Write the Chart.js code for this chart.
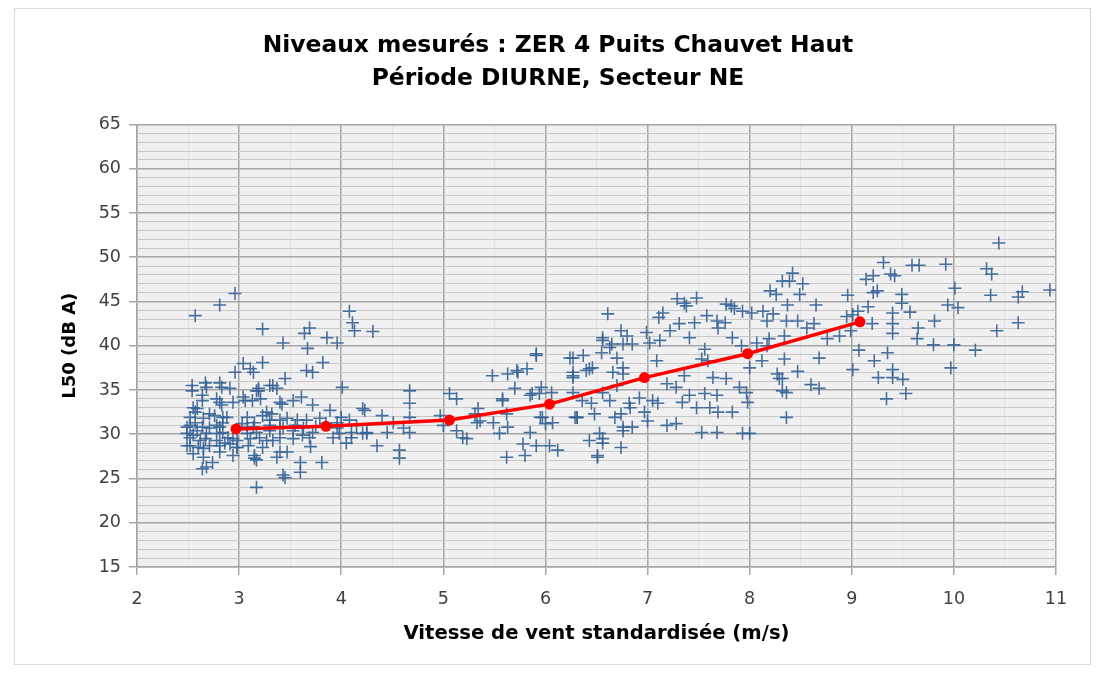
<!DOCTYPE html>
<html>
<head>
<meta charset="utf-8">
<script src="https://cdn.jsdelivr.net/npm/chart.js@4.4.0/dist/chart.umd.min.js"></script>
<style>
  html, body { margin: 0; padding: 0; background: #ffffff; }
  #wrap { position: relative; width: 1102px; height: 673px; }
  #wrap canvas { position: absolute; left: 0; top: 0; }
  #frame { position: absolute; left: 14px; top: 8px; width: 1077px; height: 657px;
           border: 1px solid #d9d9d9; box-sizing: border-box; pointer-events: none; }
</style>
</head>
<body>
<div id="wrap">
  <canvas id="chart" width="1102" height="673"></canvas>
  <div id="frame"></div>
</div>
<script>
// Titles
const titleLines = ['Niveaux mesurés : ZER 4 Puits Chauvet Haut', 'Période DIURNE, Secteur NE'];
const xAxisTitle = 'Vitesse de vent standardisée (m/s)';
const yAxisTitle = 'L50 (dB A)';

// Axis ranges and labelled ticks
const xTickLabels = [2, 3, 4, 5, 6, 7, 8, 9, 10, 11];
const yTickLabels = [15, 20, 25, 30, 35, 40, 45, 50, 55, 60, 65];

// Individual 10-min measurements: [wind speed (m/s), L50 (dB A)]
const mesures = [
  [10.44,51.6],[9.31,49.4],[9.59,49.1],[9.66,49.1],[9.92,49.2],[9.38,48.1],[9.42,47.9],[9.14,47.5],
  [9.21,47.9],[10.32,48.7],[10.37,48.1],[8.42,48.2],[8.39,47.3],[8.52,47.0],[10.01,46.5],[9.21,46.0],
  [9.25,46.2],[8.96,45.7],[9.49,45.8],[10.36,45.7],[10.67,46.1],[10.63,45.5],[10.94,46.3],[8.49,45.8],
  [8.37,44.6],[8.65,44.6],[9.49,44.8],[9.94,44.6],[10.04,44.3],[9.16,44.4],[9.06,43.9],[9.40,43.7],
  [9.57,43.8],[8.95,43.3],[9.01,43.5],[8.47,42.8],[8.63,42.5],[8.56,42.0],[9.20,42.5],[9.40,42.5],
  [9.81,42.8],[9.65,42.0],[10.63,42.6],[9.40,41.4],[9.64,40.8],[10.42,41.7],[8.34,41.1],[8.76,40.8],
  [8.88,41.1],[8.99,41.7],[9.80,40.1],[10.00,40.1],[10.21,39.5],[9.07,39.5],[9.35,39.2],[8.34,38.5],
  [8.68,38.6],[9.22,38.3],[9.01,37.3],[9.40,37.3],[8.47,37.1],[9.97,37.5],[9.26,36.4],[9.40,36.4],
  [9.50,36.2],[8.60,35.6],[8.68,35.2],[8.36,34.7],[9.34,34.0],[9.53,34.6],[8.32,36.3],[8.36,31.9],
  [8.17,42.8],[8.36,42.8],[7.82,44.5],

  [6.61,43.6],[7.29,45.3],[7.36,44.8],[7.48,45.4],[7.38,44.5],[7.15,43.7],[7.11,43.2],[7.31,42.5],
  [7.46,42.6],[7.58,43.4],[7.68,42.8],[7.77,44.7],[7.85,44.2],[7.93,43.9],[8.02,43.7],[8.13,43.9],
  [8.23,43.6],[8.20,46.2],[8.26,45.8],[8.32,47.3],[7.69,42.0],[7.76,42.6],[7.83,40.9],[7.92,40.0],
  [7.22,41.7],[6.99,41.5],[6.80,41.1],[6.74,41.7],[6.56,40.6],[6.63,39.8],[6.76,40.2],[6.85,40.2],
  [7.02,40.3],[7.12,40.6],[7.41,40.9],[7.56,39.6],[6.55,39.2],[6.37,38.9],[6.27,38.6],[7.09,38.3],
  [7.53,38.5],[7.59,38.3],[8.07,40.3],[8.17,40.0],[8.12,38.3],[8.00,37.5],[8.27,36.8],[8.29,36.3],
  [6.43,37.4],[6.66,37.0],[6.76,37.5],[6.27,36.6],[7.36,36.6],[7.64,36.4],[7.77,36.3],[7.19,35.7],
  [7.28,35.3],[7.41,34.4],[7.56,34.6],[7.68,34.4],[7.90,35.3],[7.97,34.7],[6.36,33.8],[6.45,33.5],
  [6.63,33.8],[6.82,33.5],[6.92,34.1],[7.05,33.8],[7.10,33.5],[7.34,33.6],[7.48,33.0],[7.61,33.0],
  [7.69,32.5],[7.83,32.5],[7.98,33.6],[6.31,31.9],[6.48,32.3],[6.74,32.3],[6.85,30.8],[6.76,30.4],
  [7.00,31.5],[7.19,31.0],[7.28,31.2],[7.53,30.2],[7.68,30.2],[7.93,30.1],[8.00,30.1],[6.43,29.3],
  [6.56,29.5],[6.74,28.5],[6.51,27.6],[6.97,32.5],[6.56,34.7],[6.70,35.5],[8.19,40.8],[8.32,34.9],
  [6.27,34.7],

  [4.31,41.6],[5.91,38.9],[6.24,38.6],[5.48,36.6],[5.63,36.8],[5.73,37.0],[5.82,37.4],[5.70,35.2],
  [5.87,34.6],[5.96,35.3],[4.67,34.9],[4.67,33.5],[4.67,31.9],[4.67,30.2],[5.06,34.6],[5.13,34.0],
  [4.23,32.7],[4.40,32.1],[4.45,30.2],[4.61,30.7],[4.25,30.1],[4.35,28.7],[4.57,28.2],[4.57,27.3],
  [5.00,31.0],[5.13,30.4],[5.23,29.5],[5.31,32.3],[5.36,31.5],[5.49,31.3],[5.58,34.0],[5.62,32.3],
  [5.55,30.1],[5.62,27.4],[5.80,27.6],[5.78,28.9],[5.85,30.2],[5.91,28.7],[6.04,28.7],[6.12,28.2],
  [5.95,31.9],[6.00,31.2],[6.07,31.3],[6.06,34.7],[6.27,37.0],[6.29,31.9],[5.34,32.9],[4.51,31.3],

  [2.96,45.9],[2.81,44.6],[2.57,43.4],[3.23,41.9],[3.69,42.0],[3.64,41.4],[3.86,40.9],[3.96,40.3],
  [3.43,40.3],[3.67,39.7],[4.08,43.9],[4.11,42.6],[4.13,41.7],[3.82,38.1],[3.72,37.0],[3.23,38.1],
  [3.45,36.3],[4.01,35.3],[3.04,38.0],[3.11,37.4],[2.96,37.0],[3.14,37.0],[2.67,35.8],[2.54,35.5],
  [2.81,35.8],[2.91,35.2],[3.19,35.2],[3.33,35.5],[3.37,35.2],[3.61,34.2],[3.40,33.6],[3.72,33.3],
  [4.21,32.9],[3.89,32.7],[3.04,34.2],[2.78,34.0],[2.64,34.4],[2.83,33.3],[2.59,32.9],[2.52,31.9],
  [2.65,31.8],[2.76,32.1],[2.88,31.9],[3.08,31.9],[3.27,32.5],[3.30,31.6],[3.47,31.8],[3.57,31.6],
  [3.66,31.6],[3.79,31.8],[3.96,31.3],[4.08,31.6],[2.49,30.8],[2.59,30.4],[2.71,30.7],[2.81,30.8],
  [3.08,30.8],[3.17,30.2],[3.30,30.4],[3.40,30.7],[3.53,30.4],[3.63,30.7],[3.72,30.2],[3.96,30.7],
  [4.10,30.2],[4.25,30.2],[2.52,29.6],[2.62,29.3],[2.78,29.3],[2.89,29.6],[2.98,29.3],[3.11,29.5],
  [3.27,29.3],[3.40,29.6],[3.53,29.5],[3.69,29.6],[3.92,29.6],[2.52,28.7],[2.65,28.4],[2.81,28.7],
  [2.98,28.5],[3.40,28.0],[2.65,27.4],[2.74,26.8],[3.15,27.6],[3.17,27.1],[3.60,26.8],[3.81,26.8],
  [2.64,26.1],[2.68,26.3],[3.60,25.7],[3.43,25.4],[3.17,24.0],[2.94,27.6],[3.40,31.6],[4.21,30.1],
  [4.10,29.6],[2.57,31.3],[2.84,31.3],[3.03,31.2],[3.15,31.3],[3.19,34.9],[2.71,32.3],[2.49,30.1],
  [2.68,30.1],[2.84,30.2],[3.09,28.7],[3.23,28.5],[2.91,28.9],[2.55,33.0],[2.94,33.6],[3.66,37.2],
  [3.30,35.5],[3.13,33.8],[2.54,34.9],[2.68,35.3],

  [2.83,35.3],[3.17,34.9],[2.64,33.8],[2.81,33.6],[3.06,33.8],[3.21,34.0],[3.42,33.4],[3.53,33.8],
  [2.57,32.5],[2.84,31.9],[3.23,32.1],[3.32,32.3],[2.52,31.0],[2.64,30.8],[2.78,31.0],[3.14,30.8],
  [3.30,31.0],[3.43,30.7],[2.55,29.9],[2.67,29.5],[2.81,30.1],[2.94,29.5],[3.08,30.1],[3.20,29.6],
  [3.33,29.3],[2.49,28.7],[2.60,28.5],[2.71,28.7],[2.86,29.0],[2.98,28.5],[2.55,27.8],[2.81,28.0],
  [3.15,27.3],[3.37,27.4],[3.47,28.0],[3.45,25.1],
  [3.55,31.0],[3.75,30.9],[3.85,31.2],[4.00,31.9],[4.15,31.0],[3.62,29.9],[3.98,30.1],[4.05,29.0],
  [3.70,28.6],

  [4.97,32.1],[5.19,29.6],[5.33,31.3],[5.58,33.8],[5.63,30.8],[5.72,37.2],[5.85,34.4],[5.94,34.6],
  [5.97,31.9],[5.91,39.1],[6.27,36.4],[6.40,37.2],[6.46,37.5],[6.31,31.9],[6.56,40.9],[6.65,40.2],
  [6.70,38.6],[6.76,36.8],[6.53,30.1],[6.56,29.0],[6.68,31.9],[6.76,30.8],[6.83,33.0],[6.51,27.4]
];

// Mean level per wind-speed class
const classeVitesse = [2.97, 3.85, 5.06, 6.04, 6.97, 7.98, 9.08];
const classeL50 = [30.6, 30.9, 31.6, 33.4, 36.4, 39.1, 42.7];

const isMajorX = v => Math.abs(v - Math.round(v)) < 1e-6;
const isMajorY = v => Math.abs(v / 5 - Math.round(v / 5)) < 1e-6;

// Chart frame: outer padding and fixed axis band sizes
const PAD = { top: 9, right: 46, bottom: 27, left: 60 };
const Y_AXIS_BAND = 77;
const X_AXIS_BAND = 79;

const plotBackground = {
  id: 'plotBackground',
  beforeDraw(chart) {
    const { ctx, chartArea: a } = chart;
    ctx.save();
    ctx.fillStyle = '#f0f0f0';
    ctx.fillRect(a.left, a.top, a.right - a.left, a.bottom - a.top);
    ctx.restore();
  }
};

new Chart(document.getElementById('chart'), {
  type: 'scatter',
  data: {
    datasets: [
      {
        type: 'line',
        label: 'Moyenne par classe',
        data: classeVitesse.map((x, i) => ({ x, y: classeL50[i] })),
        borderColor: '#ff0000',
        backgroundColor: '#ff0000',
        borderWidth: 3.5,
        pointRadius: 5.5,
        pointBorderWidth: 0,
        tension: 0,
        order: 0
      },
      {
        label: 'L50',
        data: mesures.map(([x, y]) => ({ x, y })),
        pointStyle: 'cross',
        pointRadius: 6.5,
        pointBorderWidth: 1.6,
        borderColor: 'rgba(52, 98, 150, 0.9)',
        backgroundColor: 'rgba(52, 98, 150, 0.9)',
        order: 1
      }
    ]
  },
  options: {
    responsive: false,
    animation: false,
    layout: { padding: PAD },
    plugins: {
      legend: { display: false },
      tooltip: { enabled: false },
      title: {
        display: true,
        text: titleLines,
        color: '#000000',
        font: { family: 'DejaVu Sans', size: 23.4, weight: 'bold', lineHeight: 1.42 },
        padding: { top: 20, bottom: 29 }
      }
    },
    scales: {
      x: {
        type: 'linear',
        min: xTickLabels[0],
        max: xTickLabels[xTickLabels.length - 1],
        afterBuildTicks: s => {
          const t = [];
          for (let v = s.min; v <= s.max + 1e-9; v += 0.5) t.push({ value: Math.round(v * 10) / 10 });
          s.ticks = t;
        },
        afterFit: s => { s.height = X_AXIS_BAND; },
        ticks: {
          autoSkip: false, maxRotation: 0, padding: 14,
          color: '#404040',
          font: { family: 'DejaVu Sans', size: 17.5 },
          callback: v => (isMajorX(v) && xTickLabels.includes(Math.round(v))) ? String(Math.round(v)) : ''
        },
        grid: {
          color: c => isMajorX(c.tick.value) ? '#a6a6a6' : '#e2e2e2',
          lineWidth: c => isMajorX(c.tick.value) ? 1.5 : 1,
          tickColor: c => isMajorX(c.tick.value) ? '#a6a6a6' : 'rgba(0,0,0,0)',
          tickLength: 8
        },
        border: { color: '#a6a6a6', width: 1.5 },
        title: {
          display: true, text: xAxisTitle, color: '#000000',
          font: { family: 'DejaVu Sans', size: 19.6, weight: 'bold' },
          padding: { top: 0, bottom: 0 }
        }
      },
      y: {
        type: 'linear',
        min: yTickLabels[0],
        max: yTickLabels[yTickLabels.length - 1],
        afterBuildTicks: s => {
          const t = [];
          for (let v = s.min; v <= s.max; v += 1) t.push({ value: v });
          s.ticks = t;
        },
        afterFit: s => { s.width = Y_AXIS_BAND; },
        ticks: {
          autoSkip: false, padding: 8,
          color: '#404040',
          font: { family: 'DejaVu Sans', size: 17.5 },
          callback: v => (isMajorY(v) && yTickLabels.includes(v)) ? String(v) : ''
        },
        grid: {
          color: c => isMajorY(c.tick.value) ? '#a6a6a6' : '#c8c8c8',
          lineWidth: c => isMajorY(c.tick.value) ? 1.5 : 1,
          tickColor: c => isMajorY(c.tick.value) ? '#a6a6a6' : 'rgba(0,0,0,0)',
          tickLength: 8
        },
        border: { color: '#a6a6a6', width: 1.5 },
        title: {
          display: true, text: yAxisTitle, color: '#000000',
          font: { family: 'DejaVu Sans', size: 18, weight: 'bold' },
          padding: { top: 0, bottom: 0 }
        }
      }
    }
  },
  plugins: [plotBackground]
});
</script>
</body>
</html>
